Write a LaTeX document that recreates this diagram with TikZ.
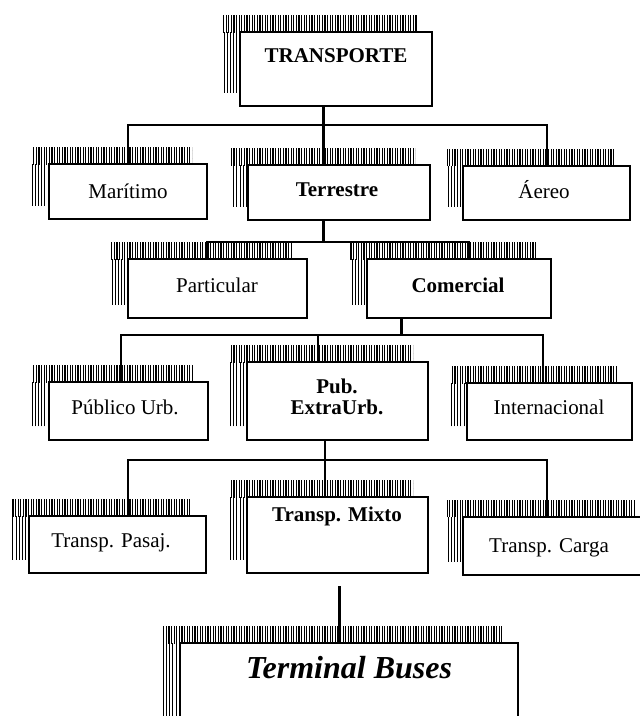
\documentclass[tikz,border=0pt]{standalone}
\usepackage{fontspec}
\setmainfont{Liberation Serif}
\usetikzlibrary{patterns.meta}
\newcommand\orgbox[5]{%
  \fill[topband] ({#2-17},{#3-17}) rectangle ({#4-15},{#3});
  \fill[leftband] ({#2-17},{#3}) rectangle ({#2},{#5-14});
  \node[box, minimum width={#4-#2}, minimum height={#5-#3}] (#1) at ({(#2+#4)/2},{(#3+#5)/2}) {};}
\begin{document}
\begin{tikzpicture}[x=1pt,y=-1pt,
  box/.style={draw, line width=2pt, rectangle, inner sep=0pt, fill=white},
  lbl/.style={anchor=base, inner sep=0pt, font=\fontsize{21}{24}\selectfont},
  blbl/.style={anchor=base, inner sep=0pt, font=\fontsize{21}{24}\selectfont\bfseries},
  biglbl/.style={anchor=base, inner sep=0pt, font=\fontsize{32}{36}\selectfont\bfseries\itshape},
  conn/.style={line width=2pt},
  trunk/.style={line width=3pt},
  topband/.style={pattern={Lines[angle=90,distance=2.6pt,line width=1.1pt]}},
  leftband/.style={pattern={Lines[angle=90,distance=3.2pt,line width=0.7pt]}}]
\useasboundingbox (0,0) rectangle (640,716);
\clip (0,0) rectangle (640,716);
\fill[white] (0,0) rectangle (640,716);

% boxes
\orgbox{trans}{240}{32}{432}{106}
\orgbox{mar}{49}{164}{207}{219}
\orgbox{terr}{248}{165}{430}{220}
\orgbox{aer}{463}{166}{630}{220}
\orgbox{part}{128}{259}{307}{318}
\orgbox{com}{367}{259}{551}{318}
\orgbox{pu}{49}{382}{208}{440}
\orgbox{pub}{247}{362}{428}{440}
\orgbox{int}{467}{383}{632}{440}
\orgbox{pas}{29}{516}{206}{573}
\orgbox{mix}{247}{497}{428}{573}
\orgbox{car}{463}{517}{650}{575}
\orgbox{term}{180}{643}{518}{760}

% labels
\node[blbl] (trans-t) at (336,62) {TRANSPORTE};
\node[lbl] (mar-t) at (128,198) {Marítimo};
\node[blbl] (terr-t) at (337,196) {Terrestre};
\node[lbl] (aer-t) at (544,198) {Áereo};
\node[lbl] (part-t) at (217,292) {Particular};
\node[blbl] (com-t) at (458,292) {Comercial};
\node[lbl] (pu-t) at (125,414) {Público Urb.};
\node[blbl] (pub-t1) at (337,393) {Pub.};
\node[blbl] (pub-t2) at (337,414) {ExtraUrb.};
\node[lbl] (int-t) at (549,414) {Internacional};
\node[lbl] (pas-t) at (111,547) {Transp. Pasaj.};
\node[blbl] (mix-t) at (337,521) {Transp. Mixto};
\node[lbl] (car-t) at (549,552) {Transp. Carga};
\node[biglbl] (term-t) at (349,678) {Terminal Buses};

% level 1
\coordinate (j1) at (323,125);
\draw[trunk] (trans.south -| j1) -- (terr.north -| j1);
\draw[conn] (mar.north) |- (j1) -| (aer.north);
% level 2
\coordinate (j2) at (323,242);
\coordinate (d1) at (207,242);
\coordinate (d2) at (469,242);
\draw[trunk] (terr.south -| j2) -- (j2);
\draw[conn] (d1 |- part.north) -- (d1) -- (d2) -- (d2 |- com.north);
% level 3
\coordinate (k0) at (401,335);
\coordinate (k1) at (121,335);
\coordinate (k2) at (318,335);
\coordinate (k3) at (543,335);
\draw[trunk] (com.south -| k0) -- (k0);
\draw[conn] (k1 |- pu.north) -- (k1) -- (k3) -- (k3 |- int.north);
\draw[conn] (k2) -- (k2 |- pub.north);
% level 4
\coordinate (m0) at (325,460);
\coordinate (m1) at (128,460);
\coordinate (m2) at (547,460);
\draw[conn] (pub.south -| m0) -- (m0) -- (m0 |- mix.north);
\draw[conn] (m1 |- pas.north) -- (m1) -- (m2) -- (m2 |- car.north);
% level 5
\coordinate (n0) at (339,600);
\draw[trunk, shorten <=12pt] (mix.south -| n0) -- (term.north -| n0);
\end{tikzpicture}
\end{document}
